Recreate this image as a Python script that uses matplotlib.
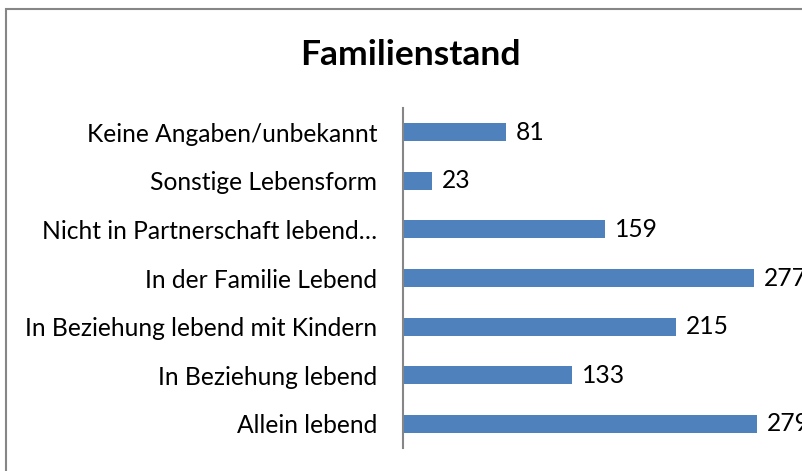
import matplotlib.pyplot as plt
from matplotlib.patches import Rectangle

# data
categories = ["Allein lebend", "In Beziehung lebend", "In Beziehung lebend mit Kindern",
              "In der Familie Lebend", "Nicht in Partnerschaft lebend\u2026",
              "Sonstige Lebensform", "Keine Angaben/unbekannt"]
values = [279, 133, 215, 277, 159, 23, 81]

plt.rcParams['font.family'] = ['Lato', 'DejaVu Sans']

W, H = 802, 471
fig = plt.figure(figsize=(W / 100, H / 100), dpi=100)

# outer chart border (runs off the right and bottom edge)
fig.patches.append(Rectangle((6 / W, -0.2), 1.0, 1 - 9 / H + 0.2,
                             transform=fig.transFigure, fill=False,
                             edgecolor='#868686', linewidth=1.5))

ax_left, ax_right = 403, 780
ax_top, ax_bot = 108, 448
ax = fig.add_axes([ax_left / W, 1 - ax_bot / H, (ax_right - ax_left) / W, (ax_bot - ax_top) / H])

y = range(len(categories))
bars = ax.barh(y, values, height=0.37, color='#4F81BD')
ax.set_ylim(-0.5, len(categories) - 0.5)
ax.set_xlim(0, (ax_right - ax_left) / ((757 - 403) / 279))

ax.set_yticks(list(y))
ax.set_yticklabels(categories, fontsize=17.7)
ax.tick_params(axis='y', length=0, pad=18.5)
ax.set_xticks([])
for s in ['top', 'right', 'bottom']:
    ax.spines[s].set_visible(False)
ax.spines['left'].set_color('#868686')
ax.spines['left'].set_linewidth(1.5)

for yi, v in zip(y, values):
    ax.annotate(str(v), (v, yi), xytext=(7, 0), textcoords='offset points',
                va='center', ha='left', fontsize=17.7, annotation_clip=False)

fig.text(410 / W, 1 - 55 / H, "Familienstand", ha='center', va='center',
         fontsize=25.5, fontweight='bold')

fig.savefig('out.png', dpi=100)
